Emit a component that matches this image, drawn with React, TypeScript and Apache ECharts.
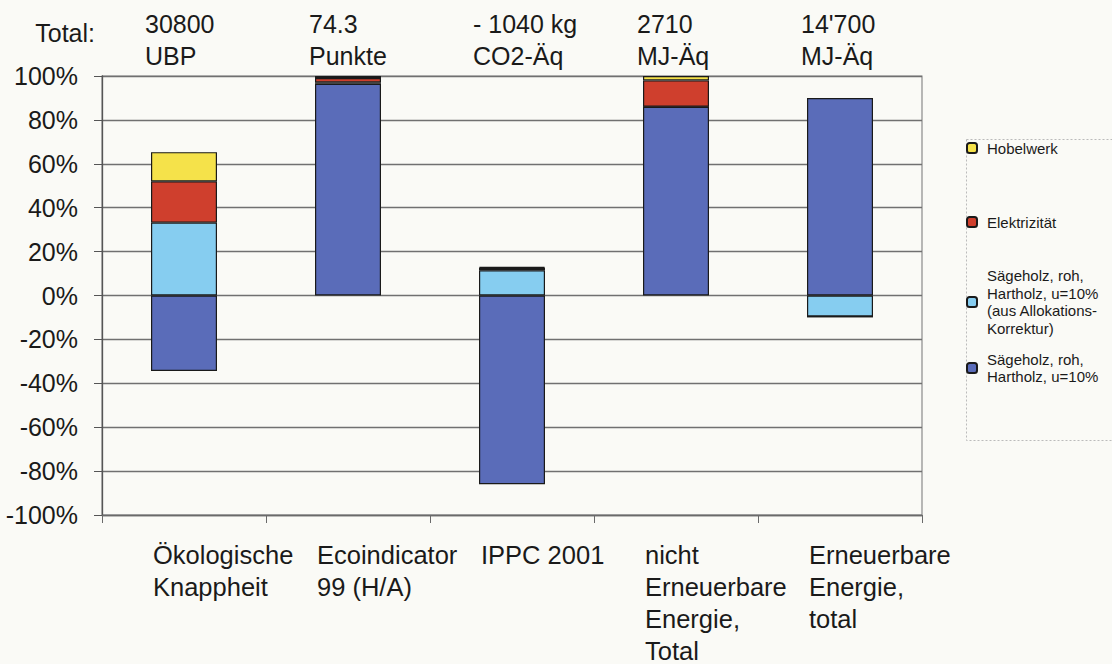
import React, { useEffect, useRef } from "react";
import * as echarts from "echarts";

const categories = [
  "Ökologische\nKnappheit",
  "Ecoindicator\n99 (H/A)",
  "IPPC 2001",
  "nicht\nErneuerbare\nEnergie,\nTotal",
  "Erneuerbare\nEnergie,\ntotal",
];
const totals = [
  "30800\nUBP",
  "74.3\nPunkte",
  "- 1040 kg\nCO2-Äq",
  "2710\nMJ-Äq",
  "14'700\nMJ-Äq",
];
const yTicks = [-100, -80, -60, -40, -20, 0, 20, 40, 60, 80, 100];

const saegeholz = [-34.4, 96.5, -86, 86, 90];
const saegeholzAlloc = [33.2, 0.6, 11.5, 0, -9.6];
const elektrizitaet = [18.8, 2.0, 1.1, 12, 0];
const hobelwerk = [13.3, 0.9, 0.4, 2, 0];

const NAME_DARK = "Sägeholz, roh, Hartholz, u=10%";
const NAME_LIGHT = "Sägeholz, roh, Hartholz, u=10% (aus Allokations-Korrektur)";
const NAME_RED = "Elektrizität";
const NAME_YELLOW = "Hobelwerk";

const legendText: Record<string, string> = {
  [NAME_YELLOW]: "Hobelwerk",
  [NAME_RED]: "Elektrizität",
  [NAME_LIGHT]: "Sägeholz, roh,\nHartholz, u=10%\n(aus Allokations-\nKorrektur)",
  [NAME_DARK]: "Sägeholz, roh,\nHartholz, u=10%",
};

const FONT = "'Liberation Sans', Arial, Helvetica, sans-serif";

export default function App() {
  const ref = useRef<HTMLDivElement>(null);
  useEffect(() => {
    if (!ref.current) return;
    const chart = echarts.init(ref.current, undefined, { renderer: "svg" });
    const border = { borderColor: "#1a1a1a", borderWidth: 1.2 };
    const mkSeries = (name: string, data: number[], color: string) => ({
      name,
      type: "bar",
      stack: "s",
      data,
      barWidth: 66,
      itemStyle: { color, ...border },
      emphasis: { disabled: true },
    });
    const LH = 17.5;
    const legendBase = {
      orient: "vertical",
      left: 966,
      padding: 0,
      itemWidth: 10,
      itemHeight: 10,
      itemGap: 0,
      selectedMode: false,
      formatter: (n: string) => legendText[n] ?? n,
      textStyle: {
        fontFamily: FONT,
        fontSize: 15,
        lineHeight: LH,
        color: "#1a1a1a",
      },
    };
    const lineCount = (n: string) => (legendText[n] ?? n).split("\n").length;
    const mkLegend = (name: string, iconY: number) => {
      const lines = lineCount(name);
      const h = lines * LH;
      const padB = h - LH;
      const total = h + padB;
      const top = iconY - (total / 2 - 5) - 5;
      return {
        ...legendBase,
        data: [name],
        top,
        textStyle: { ...legendBase.textStyle, padding: [0, 0, padB, 5] },
      };
    };
    const richLines = (v: string) =>
      v
        .split("\n")
        .map((l) => `{a|${l}}`)
        .join("\n");
    chart.setOption({
      animation: false,
      backgroundColor: "#fafaf6",
      textStyle: { fontFamily: FONT },
      grid: {
        left: 102,
        right: 190,
        top: 76,
        bottom: 149,
        show: true,
        borderColor: "#8a8a8a",
        borderWidth: 1.2,
      },
      legend: [
        mkLegend(NAME_YELLOW, 148),
        mkLegend(NAME_RED, 222),
        mkLegend(NAME_LIGHT, 302),
        mkLegend(NAME_DARK, 368),
      ],
      xAxis: [
        {
          type: "category",
          data: categories,
          position: "bottom",
          axisLine: { onZero: false, lineStyle: { color: "#6a6a6a", width: 1.3 } },
          axisTick: { show: true, length: 8, lineStyle: { color: "#6a6a6a" } },
          axisLabel: {
            margin: 24,
            align: "center",
            formatter: richLines,
            rich: {
              a: {
                fontFamily: FONT,
                fontSize: 25.5,
                lineHeight: 32,
                width: 62,
                align: "left",
                color: "#1a1a1a",
              },
            },
          },
        },
        {
          type: "category",
          data: totals,
          position: "top",
          axisLine: { show: false },
          axisTick: { show: false },
          axisLabel: {
            margin: 4,
            align: "center",
            formatter: richLines,
            rich: {
              a: {
                fontFamily: FONT,
                fontSize: 25,
                lineHeight: 32,
                width: 78,
                align: "left",
                color: "#1a1a1a",
              },
            },
          },
        },
      ],
      yAxis: {
        type: "value",
        min: yTicks[0],
        max: yTicks[yTicks.length - 1],
        interval: 20,
        axisLine: { show: true, lineStyle: { color: "#555", width: 1.3 } },
        axisTick: { show: true, length: 8, lineStyle: { color: "#555" } },
        axisLabel: {
          margin: 24,
          fontFamily: FONT,
          fontSize: 25,
          color: "#1a1a1a",
          formatter: (v: number) => `${v}%`,
        },
        splitLine: { show: true, lineStyle: { color: "#707070", width: 1.4 } },
      },
      series: [
        mkSeries(NAME_DARK, saegeholz, "#5a6cb9"),
        mkSeries(NAME_LIGHT, saegeholzAlloc, "#86cdf0"),
        mkSeries(NAME_RED, elektrizitaet, "#cf3f2d"),
        mkSeries(NAME_YELLOW, hobelwerk, "#f5e24a"),
      ],
      graphic: [
        {
          type: "text",
          right: 1112 - 95,
          top: 20,
          style: {
            text: "Total:",
            fontFamily: FONT,
            fontSize: 25,
            fill: "#1a1a1a",
          },
        },
        {
          type: "rect",
          left: 964,
          top: 137,
          shape: { width: 160, height: 301 },
          style: { fill: "none", stroke: "#bbbbbb", lineWidth: 1, lineDash: [2, 2] },
          silent: true,
          z: -1,
        },
      ],
    });
    return () => chart.dispose();
  }, []);
  return (
    <div
      ref={ref}
      style={{ position: "absolute", left: 0, top: 0, width: 1112, height: 664 }}
    />
  );
}
